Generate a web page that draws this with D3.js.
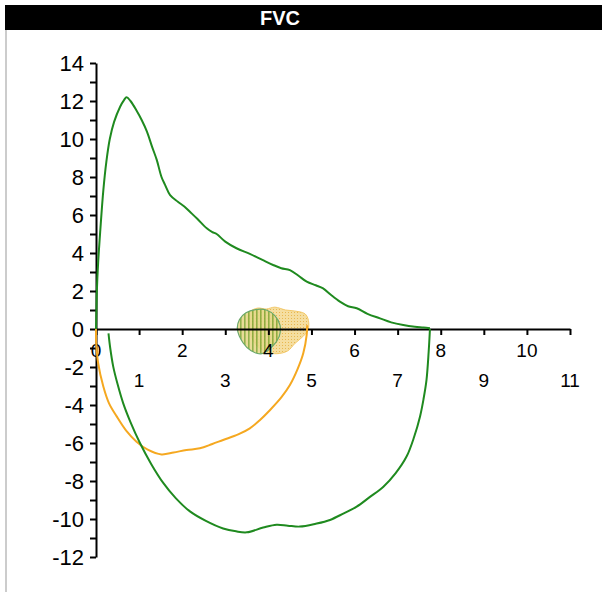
<!DOCTYPE html>
<html>
<head>
<meta charset="utf-8">
<script src="https://cdn.jsdelivr.net/npm/d3@7"></script>
<style>
  body { margin: 0; background: #fff; }
  text { font-family: "Liberation Sans", Arial, sans-serif; }
</style>
</head>
<body>
<div id="chart"></div>
<script>
// expiratory / inspiratory flow-volume curves (volume L, flow L/s)
const greenExp = [[0,0],[0.01,1],[0.02,2],[0.05,3.5],[0.1,5.2],[0.17,7.3],[0.24,8.8],[0.32,10],[0.42,10.9],[0.56,11.7],[0.65,12.05],[0.71,12.2],[0.8,12.0],[0.94,11.5],[1.06,11.0],[1.18,10.4],[1.3,9.6],[1.41,8.9],[1.52,8.0],[1.6,7.6],[1.72,7.05],[1.9,6.7],[2.05,6.45],[2.18,6.17],[2.35,5.8],[2.57,5.3],[2.7,5.1],[2.8,5.0],[3.0,4.6],[3.26,4.25],[3.57,3.95],[3.85,3.65],[4.11,3.37],[4.3,3.2],[4.5,3.1],[4.7,2.8],[4.89,2.49],[5.1,2.3],[5.27,2.14],[5.45,1.8],[5.66,1.44],[5.85,1.2],[6.05,1.09],[6.3,0.8],[6.59,0.56],[6.85,0.35],[7.13,0.21],[7.4,0.12],[7.6,0.08],[7.75,0.04]];
const greenInsp = [[7.75,0],[7.72,-1.2],[7.67,-2.68],[7.6,-3.7],[7.52,-4.6],[7.38,-5.7],[7.21,-6.7],[6.95,-7.6],[6.67,-8.3],[6.35,-8.85],[6.05,-9.35],[5.75,-9.7],[5.43,-10.05],[5.1,-10.25],[4.73,-10.4],[4.45,-10.35],[4.19,-10.3],[3.88,-10.45],[3.5,-10.7],[3.25,-10.65],[2.95,-10.5],[2.55,-10.1],[2.18,-9.6],[1.85,-8.9],[1.56,-8.1],[1.28,-7.1],[1.02,-6.0],[0.8,-4.9],[0.63,-3.9],[0.5,-2.9],[0.4,-1.98],[0.33,-1.0],[0.29,-0.23]];
const orangeInsp = [[0,0],[0.005,-0.75],[0.05,-1.8],[0.17,-3.03],[0.3,-3.9],[0.48,-4.6],[0.7,-5.35],[0.94,-5.93],[1.2,-6.35],[1.52,-6.6],[1.8,-6.5],[2.1,-6.37],[2.41,-6.28],[2.7,-6.05],[2.95,-5.84],[3.3,-5.55],[3.57,-5.23],[3.8,-4.8],[4.04,-4.26],[4.3,-3.6],[4.5,-2.95],[4.68,-2.1],[4.81,-1.28],[4.89,-0.3],[4.9,0.2]];

// tidal breathing loops
const greenTidal = [[3.28,0.0],[3.33,0.5],[3.48,0.85],[3.7,1.02],[3.95,1.0],[4.15,0.7],[4.27,0.2],[4.25,-0.4],[4.1,-0.9],[3.85,-1.3],[3.6,-1.15],[3.42,-0.75]];
const orangeTidal = [[3.55,0.85],[3.75,1.1],[3.95,1.05],[4.15,1.15],[4.4,1.0],[4.6,0.95],[4.85,0.8],[4.93,0.45],[4.92,-0.05],[4.8,-0.4],[4.62,-0.75],[4.45,-1.15],[4.2,-1.3],[3.95,-1.2],[3.7,-0.8],[3.55,0.0]];

const xTicks = d3.range(0, 12);
const yTicks = d3.range(-12, 15);

const width = 602, height = 592;
const svg = d3.select('#chart').append('svg')
    .attr('width', width)
    .attr('height', height);

const defs = svg.append('defs');
const stripes = defs.append('pattern')
    .attr('id', 'stripes')
    .attr('patternUnits', 'userSpaceOnUse')
    .attr('width', 4).attr('height', 4);
stripes.append('rect').attr('width', 4).attr('height', 4).attr('fill', '#e6d88c');
stripes.append('rect').attr('width', 1.6).attr('height', 4).attr('fill', '#86a838');

const dots = defs.append('pattern')
    .attr('id', 'dots')
    .attr('patternUnits', 'userSpaceOnUse')
    .attr('width', 3).attr('height', 3);
dots.append('rect').attr('width', 3).attr('height', 3).attr('fill', '#f5dea0');
dots.append('rect').attr('width', 1).attr('height', 1).attr('fill', '#e8b850');

// frame + title bar
svg.append('line')
    .attr('x1', 6).attr('x2', 6).attr('y1', 30).attr('y2', height)
    .attr('stroke', '#999').attr('stroke-width', 1);
svg.append('rect')
    .attr('x', 5).attr('y', 5).attr('width', width - 5).attr('height', 25)
    .attr('fill', '#000');
svg.append('text')
    .attr('x', 280).attr('y', 25)
    .attr('text-anchor', 'middle')
    .attr('fill', '#fff')
    .style('font-size', '20px')
    .style('font-weight', 'bold')
    .text('FVC');

const x = d3.scaleLinear().domain([0, 11]).range([96, 570]);
const y = d3.scaleLinear().domain([-12, 14]).range([557, 63]);

// tidal loops
const loop = d3.line().x(d => x(d[0])).y(d => y(d[1])).curve(d3.curveCatmullRomClosed);
svg.append('path')
    .attr('d', loop(orangeTidal))
    .attr('fill', 'url(#dots)')
    .attr('stroke', '#f3c867').attr('stroke-width', 1);
svg.append('path')
    .attr('d', loop(greenTidal))
    .attr('fill', 'url(#stripes)')
    .attr('fill-opacity', 0.9)
    .attr('stroke', '#6aa86a').attr('stroke-width', 1.2);

// axes
const xAxis = svg.append('g')
    .attr('transform', `translate(0,${y(0)})`)
    .call(d3.axisBottom(x).tickValues(xTicks).tickSize(6).tickSizeOuter(0).tickFormat(''));
const yAxis = svg.append('g')
    .attr('transform', `translate(${x(0)},0)`)
    .call(d3.axisLeft(y).tickValues(yTicks).tickSize(6).tickSizeOuter(0).tickFormat(''));
[xAxis, yAxis].forEach(g => {
    g.select('.domain').attr('stroke', '#000').attr('stroke-width', 2);
    g.selectAll('.tick line').attr('stroke', '#000').attr('stroke-width', 2);
});

// staggered x labels: even close, odd further down
svg.append('g').selectAll('text')
    .data(xTicks)
    .enter()
    .append('text')
    .attr('x', d => x(d))
    .attr('y', d => y(0) + (d % 2 === 0 ? 28 : 58))
    .attr('text-anchor', 'middle')
    .style('font-size', '19px')
    .text(d => d);

svg.append('g').selectAll('text')
    .data(yTicks.filter(d => d % 2 === 0))
    .enter()
    .append('text')
    .attr('x', 84)
    .attr('y', d => y(d))
    .attr('dy', '0.36em')
    .attr('text-anchor', 'end')
    .style('font-size', '22px')
    .text(d => d);

// curves
const line = d3.line().x(d => x(d[0])).y(d => y(d[1])).curve(d3.curveCatmullRom);
svg.append('path').attr('d', line(orangeInsp))
    .attr('fill', 'none').attr('stroke', '#f5a820').attr('stroke-width', 2);
svg.append('path').attr('d', line(greenExp))
    .attr('fill', 'none').attr('stroke', '#1f8a1f').attr('stroke-width', 2);
svg.append('path').attr('d', line(greenInsp))
    .attr('fill', 'none').attr('stroke', '#1f8a1f').attr('stroke-width', 2);
</script>
</body>
</html>
